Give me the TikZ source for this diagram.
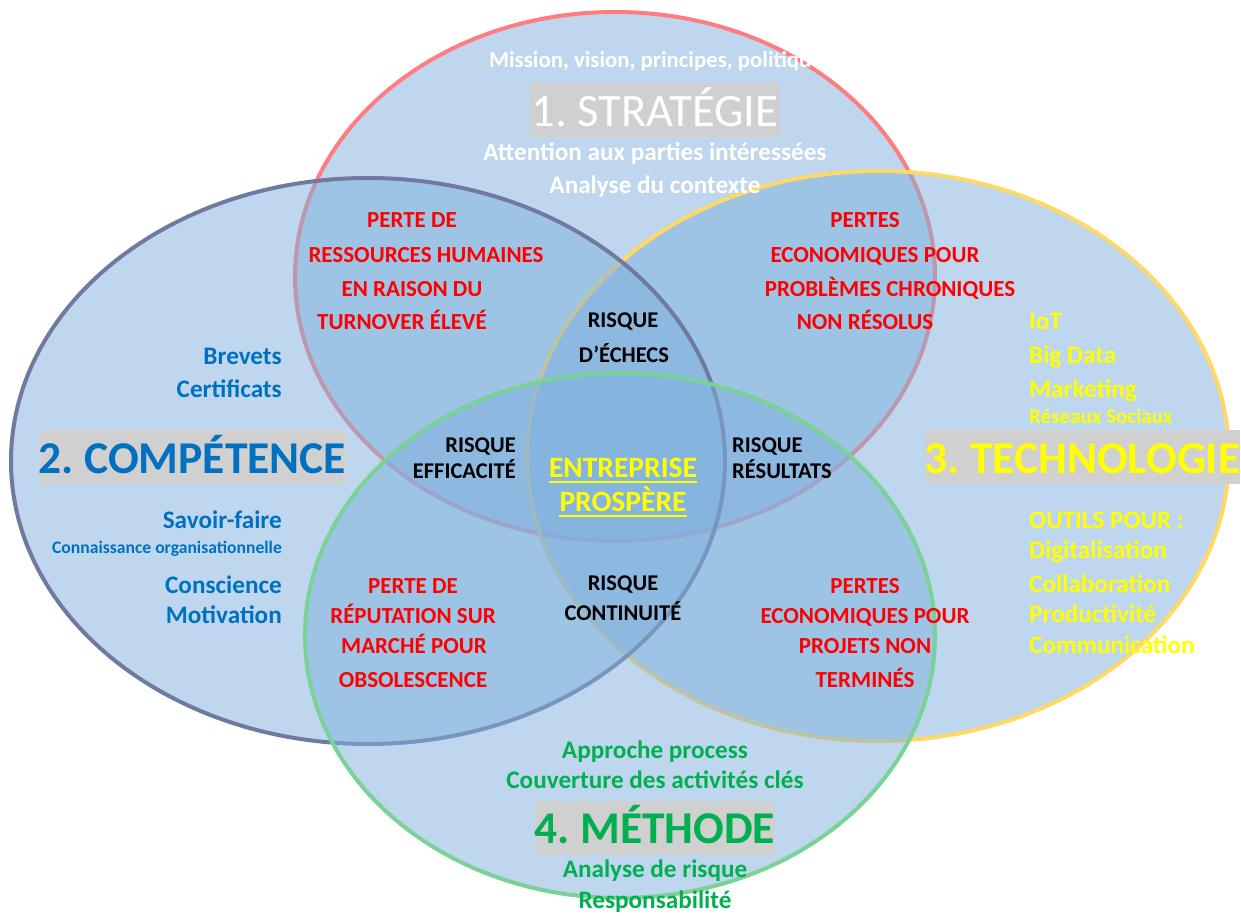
\documentclass[tikz,border=0pt]{standalone}
\usepackage{fontspec}
\setmainfont{Carlito}
\frenchspacing
\definecolor{fillblue}{RGB}{126,177,222}
\definecolor{ored}{RGB}{255,125,128}
\definecolor{oblue}{RGB}{112,122,160}
\definecolor{oyellow}{RGB}{255,217,102}
\definecolor{ogreen}{RGB}{122,210,150}
\definecolor{tred}{RGB}{255,0,0}
\definecolor{tblue}{RGB}{0,112,192}
\definecolor{tyellow}{RGB}{255,255,0}
\definecolor{tgreen}{RGB}{0,176,80}
\definecolor{boxgrey}{RGB}{208,208,208}
\begin{document}
\begin{tikzpicture}[x=1pt,y=-1pt,
  venn/.style={fill=fillblue, fill opacity=0.5, line width=4pt},
  lbl/.style={inner sep=0pt, anchor=base, font=\bfseries\fontsize{25.2}{29}\selectfont},
  redtxt/.style={lbl, text=tred, font=\bfseries\fontsize{23}{27}\selectfont},
  blktxt/.style={lbl, text=black, font=\bfseries\fontsize{22.5}{26}\selectfont},
  whitetxt/.style={lbl, text=white},
  bluetxt/.style={lbl, text=tblue, anchor=base east},
  yeltxt/.style={lbl, text=tyellow, anchor=base west},
  greentxt/.style={lbl, text=tgreen},
  titlebox/.style={fill=boxgrey, inner sep=0pt, anchor=base, text height=43pt, text depth=11pt, align=center},
]
\useasboundingbox (0,0) rectangle (1241,915);
\fill[white] (0,0) rectangle (1241,915);

% circles
\draw[venn, draw=ored]    (615,276.5) ellipse [x radius=320, y radius=264.5];
\draw[venn, draw=oyellow] (878,456)   ellipse [x radius=351, y radius=285];
\draw[venn, draw=oblue]   (368,461)   ellipse [x radius=357, y radius=283];
\draw[venn, draw=ogreen]  (620,635.5) ellipse [x radius=315, y radius=262.5];

% 1. Strategie
\node[whitetxt, font=\bfseries\fontsize{22.8}{26}\selectfont] (w1) at (656,68) {Mission, vision, principes, politique};
\node[titlebox, minimum width=250pt, text=white, text height=44pt, text depth=10pt,
      font=\fontsize{46.5}{50}\selectfont] (t1) at (655,127) {1. STRATÉGIE};
\node[whitetxt] (w2) at (655,160) {Attention aux parties intéressées};
\node[whitetxt] (w3) at (655,193) {Analyse du contexte};

% 2. Competence
\node[bluetxt] (b1) at (282,364) {Brevets};
\node[bluetxt] (b2) at (282,397) {Certificats};
\node[titlebox, minimum width=305pt, text=tblue,
      font=\bfseries\fontsize{45.5}{50}\selectfont] (t2) at (192.5,473) {2. COMPÉTENCE};
\node[bluetxt] (b3) at (282,528) {Savoir-faire};
\node[bluetxt, font=\bfseries\fontsize{17.6}{20}\selectfont] (b4) at (282,553) {Connaissance organisationnelle};
\node[bluetxt] (b5) at (282,593) {Conscience};
\node[bluetxt] (b6) at (282,623) {Motivation};

% 3. Technologie
\node[yeltxt] (y1) at (1029,329) {IoT};
\node[yeltxt] (y2) at (1029,363) {Big Data};
\node[yeltxt] (y3) at (1029,397) {Marketing};
\node[yeltxt, font=\bfseries\fontsize{21}{24}\selectfont] (y4) at (1029,423) {Réseaux Sociaux};
\node[titlebox, minimum width=315pt, text=tyellow,
      font=\bfseries\fontsize{45.5}{50}\selectfont] (t3) at (1082.5,473) {3. TECHNOLOGIE};
\node[yeltxt] (y5) at (1029,528) {OUTILS POUR :};
\node[yeltxt] (y6) at (1029,558) {Digitalisation};
\node[yeltxt] (y7) at (1029,592) {Collaboration};
\node[yeltxt] (y8) at (1029,622) {Productivité};
\node[yeltxt] (y9) at (1029,653) {Communication};

% 4. Methode
\node[greentxt] (g1) at (655,758) {Approche process};
\node[greentxt] (g2) at (655,788) {Couverture des activités clés};
\node[titlebox, minimum width=240pt, text=tgreen, text height=42pt, text depth=12pt,
      font=\bfseries\fontsize{45.5}{50}\selectfont] (t4) at (655,843) {4. MÉTHODE};
\node[greentxt] (g3) at (655,877) {Analyse de risque};
\node[greentxt] (g4) at (655,908) {Responsabilité};

% red risk texts
\node[redtxt] (r1) at (412,227) {PERTE DE};
\node[redtxt] (r2) at (426,262) {RESSOURCES HUMAINES};
\node[redtxt] (r3) at (412,296) {EN RAISON DU};
\node[redtxt] (r4) at (402,329) {TURNOVER ÉLEVÉ};

\node[redtxt] (r5) at (865,227) {PERTES};
\node[redtxt] (r6) at (875,262) {ECONOMIQUES POUR};
\node[redtxt] (r7) at (890,296) {PROBLÈMES CHRONIQUES};
\node[redtxt] (r8) at (865,329) {NON RÉSOLUS};

\node[redtxt] (r9)  at (413,593) {PERTE DE};
\node[redtxt] (r10) at (413,623) {RÉPUTATION SUR};
\node[redtxt] (r11) at (414,653) {MARCHÉ POUR};
\node[redtxt] (r12) at (413,687) {OBSOLESCENCE};

\node[redtxt] (r13) at (865,593) {PERTES};
\node[redtxt] (r14) at (865,623) {ECONOMIQUES POUR};
\node[redtxt] (r15) at (865,653) {PROJETS NON};
\node[redtxt] (r16) at (865,687) {TERMINÉS};

% black risk texts
\node[blktxt] (k1) at (623,327) {RISQUE};
\node[blktxt] (k2) at (624,362) {D’ÉCHECS};
\node[blktxt, anchor=base east] (k3) at (516,452) {RISQUE};
\node[blktxt, anchor=base east] (k4) at (516,478) {EFFICACITÉ};
\node[blktxt, anchor=base west] (k5) at (732,452) {RISQUE};
\node[blktxt, anchor=base west] (k6) at (732,478) {RÉSULTATS};
\node[blktxt] (k7) at (623,590) {RISQUE};
\node[blktxt] (k8) at (623,620) {CONTINUITÉ};

% centre
\node[lbl, text=tyellow, font=\bfseries\fontsize{29.5}{32}\selectfont] (c1) at (623,477) {ENTREPRISE};
\node[lbl, text=tyellow, font=\bfseries\fontsize{29.5}{32}\selectfont] (c2) at (623,511) {PROSPÈRE};
\draw[tyellow, line width=2pt] ([yshift=-5pt]c1.base west) -- ([yshift=-5pt]c1.base east);
\draw[tyellow, line width=2pt] ([yshift=-5pt]c2.base west) -- ([yshift=-5pt]c2.base east);
\end{tikzpicture}
\end{document}
